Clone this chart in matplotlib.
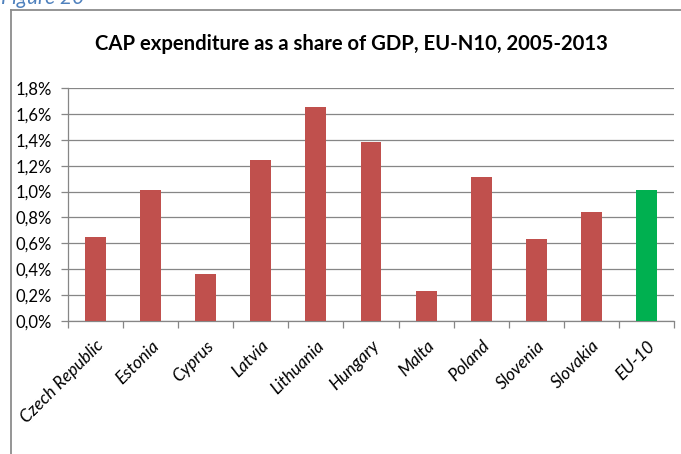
import matplotlib
matplotlib.use("Agg")
import matplotlib.pyplot as plt
from matplotlib.lines import Line2D
from matplotlib.ticker import FuncFormatter, FixedLocator
import matplotlib.transforms as mtrans

countries = ["Czech Republic", "Estonia", "Cyprus", "Latvia", "Lithuania",
             "Hungary", "Malta", "Poland", "Slovenia", "Slovakia", "EU-10"]
share_pct = [0.65, 1.01, 0.36, 1.24, 1.65, 1.38, 0.23, 1.11, 0.63, 0.84, 1.01]
bar_colors = ["#C0504D"] * 10 + ["#00B050"]
y_ticks = [0.0, 0.2, 0.4, 0.6, 0.8, 1.0, 1.2, 1.4, 1.6, 1.8]

plt.rcParams['font.family'] = ['Lato', 'DejaVu Sans']

W, H = 681, 454
fig = plt.figure(figsize=(W / 100, H / 100), dpi=100)
fig.patch.set_facecolor("white")

# outer frame (cut by image edges)
fig.add_artist(Line2D([10.5 / W, 10.5 / W], [0, 1 - 9.5 / H], transform=fig.transFigure,
                      color="#8C8C8C", lw=1.3))
fig.add_artist(Line2D([10.5 / W, 1.0], [1 - 9.5 / H, 1 - 9.5 / H], transform=fig.transFigure,
                      color="#8C8C8C", lw=1.3))
fig.text(1 / W, 1 - 4 / H, "Figure 20", color="#4F81BD", fontsize=15, style="italic",
         ha="left", va="baseline")

ax = fig.add_axes([68 / W, 1 - 321 / H, 606 / W, 233 / H])
x = list(range(len(countries)))
ax.bar(x, share_pct, width=0.38, color=bar_colors, zorder=3)

ax.set_xlim(-0.5, len(countries) - 0.5)
ax.set_ylim(0, 1.8)
ax.set_yticks(y_ticks)
ax.yaxis.set_major_formatter(FuncFormatter(lambda v, p: f"{v:.1f}%".replace(".", ",")))
ax.grid(axis="y", color="#868686", lw=0.9, zorder=0)
ax.set_axisbelow(True)

ax.set_xticks(x)
ax.set_xticklabels(countries, rotation=45, ha="right", rotation_mode="anchor",
                   style="italic", fontsize=12.5)
shift = mtrans.ScaledTranslation(4 / 100, 0, fig.dpi_scale_trans)
for lab in ax.get_xticklabels():
    lab.set_transform(lab.get_transform() + shift)
ax.xaxis.set_minor_locator(FixedLocator([i - 0.5 for i in range(len(countries) + 1)]))
ax.tick_params(axis="x", which="major", length=0, pad=12)
ax.tick_params(axis="x", which="minor", length=5, color="#868686", width=0.9)
ax.tick_params(axis="y", length=5, color="#868686", width=0.9, labelsize=12, pad=6.5)

for s in ["top", "right"]:
    ax.spines[s].set_visible(False)
for s in ["left", "bottom"]:
    ax.spines[s].set_color("#868686")
    ax.spines[s].set_linewidth(0.9)

fig.text(351 / W, 1 - 44 / H, "CAP expenditure as a share of GDP, EU-N10, 2005-2013",
         ha="center", va="center", fontsize=14.6, fontweight="bold")

fig.savefig("out.png", dpi=100)
